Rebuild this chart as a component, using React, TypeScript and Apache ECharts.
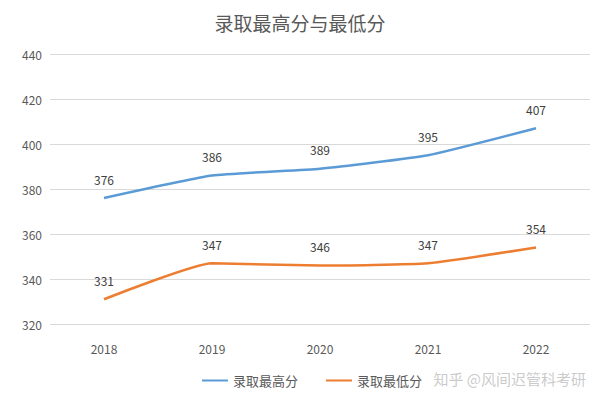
import React, { useEffect, useRef } from "react";
import * as echarts from "echarts";

const categories = ["2018", "2019", "2020", "2021", "2022"];
const maxScores = [376, 386, 389, 395, 407];
const minScores = [331, 347, 346, 347, 354];
const seriesNames = ["录取最高分", "录取最低分"];
const titleText = "录取最高分与最低分";
const watermark = "知乎 @风间迟管科考研";

export default function App() {
  const ref = useRef<HTMLDivElement>(null);
  useEffect(() => {
    if (!ref.current) return;
    const chart = echarts.init(ref.current, null, { renderer: "svg" });
    const font = "'Noto Sans CJK SC', 'Noto Sans', sans-serif";
    const labelCfg = {
      show: true,
      position: "top" as const,
      distance: 13,
      color: "#404040",
      fontSize: 12,
      fontFamily: font,
    };
    chart.setOption({
      animation: false,
      backgroundColor: "#ffffff",
      title: {
        text: titleText,
        left: "center",
        top: 8,
        textStyle: { color: "#595959", fontSize: 19, fontWeight: "normal", fontFamily: font },
      },
      grid: { left: 50, right: 10, top: 54, bottom: 76 },
      legend: {
        bottom: 8,
        left: 197,
        itemWidth: 26,
        itemHeight: 2,
        itemGap: 28,
        icon: "rect",
        textStyle: { color: "#595959", fontSize: 13, fontFamily: font },
        data: seriesNames,
      },
      xAxis: {
        type: "category",
        data: categories,
        boundaryGap: true,
        axisLine: { show: false },
        axisTick: { show: false },
        axisLabel: { color: "#595959", fontSize: 12, margin: 18, fontFamily: font },
      },
      yAxis: {
        type: "value",
        min: 320,
        max: 440,
        interval: 20,
        axisLine: { show: false },
        axisTick: { show: false },
        axisLabel: { color: "#595959", fontSize: 12, margin: 28, align: "left", fontFamily: font },
        splitLine: { lineStyle: { color: "#d9d9d9", width: 1 } },
      },
      graphic: [
        {
          type: "text",
          right: 14,
          bottom: 14,
          style: {
            text: watermark,
            fill: "rgba(185,185,185,0.75)",
            fontSize: 15,
            fontFamily: font,
          },
        },
      ],
      series: [
        {
          name: seriesNames[0],
          type: "line",
          data: maxScores,
          smooth: 0.15,
          symbol: "circle",
          symbolSize: 0,
          showSymbol: true,
          lineStyle: { color: "#5B9BD5", width: 2.5 },
          itemStyle: { color: "#5B9BD5" },
          label: labelCfg,
        },
        {
          name: seriesNames[1],
          type: "line",
          data: minScores,
          smooth: 0.15,
          symbol: "circle",
          symbolSize: 0,
          showSymbol: true,
          lineStyle: { color: "#ED7D31", width: 2.5 },
          itemStyle: { color: "#ED7D31" },
          label: labelCfg,
        },
      ],
    });
    return () => chart.dispose();
  }, []);
  return <div ref={ref} style={{ width: 600, height: 400, margin: -8 }} />;
}
